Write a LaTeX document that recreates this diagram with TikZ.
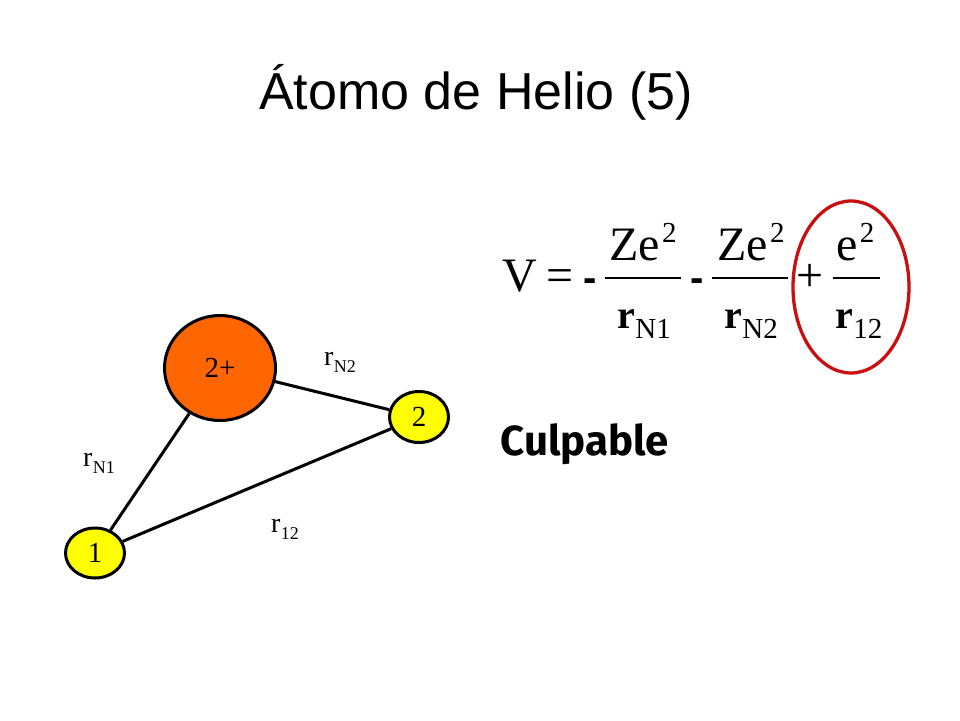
\documentclass[tikz,border=0pt]{standalone}
\usepackage{fontspec}
\setmainfont{Liberation Serif}
\newfontfamily\titlefont{Liberation Sans}
\newfontfamily\blamefont{Fira Sans}
\usetikzlibrary{shapes.geometric}

\definecolor{nucleus}{RGB}{255,102,0}
\definecolor{electron}{RGB}{255,255,0}
\definecolor{ring}{RGB}{200,16,16}

\tikzset{
  particle/.style={ellipse, draw=black, line width=3pt, inner sep=0pt, font=\fontsize{29}{29}\selectfont},
  link/.style={black, line width=3pt},
  lbl/.style={inner sep=0pt, anchor=base west, font=\fontsize{28}{28}\selectfont},
  lblsub/.style={inner sep=0pt, anchor=base west, font=\fontsize{18}{18}\selectfont},
  eq/.style={inner sep=0pt, anchor=base west, font=\fontsize{48}{48}\selectfont},
  eqden/.style={inner sep=0pt, anchor=base west, font=\bfseries\fontsize{40}{40}\selectfont},
  eqsmall/.style={inner sep=0pt, anchor=base west, font=\fontsize{29}{29}\selectfont},
  eqop/.style={inner sep=0pt, anchor=base, font=\fontsize{48}{48}\selectfont},
  eqminus/.style={inner sep=0pt, anchor=base, font=\titlefont\bfseries\fontsize{40}{40}\selectfont},
  fracbar/.style={black, line width=2.4pt}
}

\begin{document}
\begin{tikzpicture}[x=1pt,y=-1pt]
    \useasboundingbox (0,0) rectangle (960,720);

    % Title
    \node[font=\titlefont\fontsize{52}{52}\selectfont, anchor=base] (title) at (476,109) {Átomo de Helio (5)};

    % Nucleus and electrons
    \node[particle, fill=nucleus, minimum width=111pt, minimum height=105pt] (nuc) at (220,368) {2+};
    \node[particle, fill=electron, minimum width=59pt, minimum height=51pt] (e2) at (419,417) {2};
    \node[particle, fill=electron, minimum width=59pt, minimum height=50pt] (e1) at (95,553) {1};

    \draw[link] (e1) -- (nuc);
    \draw[link] (nuc) -- (e2);
    \draw[link] (e1) -- (e2);

    %% Distances
    \node[lbl] (rN1) at (83,466) {r};
    \node[lblsub] (rN1sub) at ([yshift=-7pt]rN1.base east) {N1};
    \node[lbl] (rN2) at (324,365) {r};
    \node[lblsub] (rN2sub) at ([yshift=-7pt]rN2.base east) {N2};
    \node[lbl] (r12) at (271,532) {r};
    \node[lblsub] (r12sub) at ([yshift=-7pt]r12.base east) {12};

    % Potential
    \node[eq] (V) at (502,291) {V};
    \node[eqop] (equals) at (560,291) {=};
    \node[eqminus] (minusA) at (590,291) {-};
    \node[eq] (numA) at (609,260) {Ze};
    \node[eqsmall] (supA) at ([xshift=2pt,yshift=18pt]numA.base east) {2};
    \draw[fracbar] (605,278) -- (681,278);
    \node[eqden] (denA) at (617,328) {r};
    \node[eqsmall] (subA) at ([yshift=-10pt]denA.base east) {N1};

    \node[eqminus] (minusB) at (697,291) {-};
    \node[eq] (numB) at (717,260) {Ze};
    \node[eqsmall] (supB) at ([xshift=2pt,yshift=18pt]numB.base east) {2};
    \draw[fracbar] (712,278) -- (788,278);
    \node[eqden] (denB) at (724,328) {r};
    \node[eqsmall] (subB) at ([yshift=-10pt]denB.base east) {N2};

    \node[eqop] (plus) at (810,291) {+};
    \node[eq] (numC) at (836,260) {e};
    \node[eqsmall] (supC) at ([xshift=2pt,yshift=18pt]numC.base east) {2};
    \draw[fracbar] (833,278) -- (880,278);
    \node[eqden] (denC) at (835,328) {r};
    \node[eqsmall] (subC) at ([yshift=-10pt]denC.base east) {12};

    %% Red ring
    \draw[ring, line width=3.3pt] (851,287) ellipse [x radius=58, y radius=86];

    \node[font=\blamefont\bfseries\fontsize{42}{42}\selectfont, anchor=base west] (blame) at (497,455) {Culpable};
\end{tikzpicture}
\end{document}
